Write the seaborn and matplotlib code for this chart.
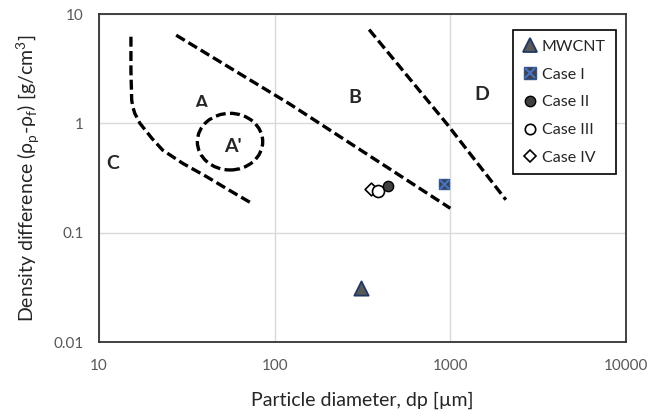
import pandas as pd
import matplotlib.pyplot as plt
import seaborn as sns
from matplotlib.lines import Line2D
from matplotlib.patches import Ellipse, Rectangle
from matplotlib.ticker import FixedLocator, FuncFormatter, LogLocator, NullFormatter

# measured cases (particle diameter in um, density difference in g/cm3)
cases = ["MWCNT", "Case I", "Case II", "Case III", "Case IV"]
dp = [310, 920, 440, 385, 355]
drho = [0.031, 0.28, 0.265, 0.24, 0.25]

# regime boundaries
bound_c_x = [15.2, 15.2, 15.35, 15.6, 16.0, 17.1, 20, 23, 30, 41, 55, 73]
bound_c_y = [6.2, 3.0, 1.63, 1.4, 1.23, 1.0, 0.73, 0.57, 0.43, 0.325, 0.245, 0.188]
bound_b_x = [27.5, 122, 1000]
bound_b_y = [6.4, 1.5, 0.167]
bound_d_x = [345, 950, 2070]
bound_d_y = [7.2, 1.0, 0.2]

# region A' (ellipse centre in data units, half-axes in decades)
a_prime_centre = (55.7, 0.68)
a_prime_halfaxes = (0.186, 0.259)

region_labels = ["A", "A'", "B", "C", "D"]
region_x = [38, 57.7, 286, 12.0, 1520]
region_y = [1.53, 0.61, 1.74, 0.43, 1.82]

x_ticks = [10, 100, 1000, 10000]
y_ticks = [0.01, 0.1, 1, 10]
# excel put the minor x ticks at odd spots
x_minor = [12.5, 31.25, 78, 195, 488, 1220, 3050, 7630]

sns.set_style("white")
plt.rcParams["font.family"] = ["Lato", "DejaVu Sans"]
plt.rcParams["mathtext.fontset"] = "custom"
plt.rcParams["mathtext.rm"] = "Lato"

fig = plt.figure(figsize=(6.63, 4.16), dpi=100)
ax = fig.add_axes([99 / 663, 1 - 342 / 416, 527 / 663, 328 / 416])
ax.set_xscale("log")
ax.set_yscale("log")
ax.set_xlim(10, 10000)
ax.set_ylim(0.01, 10)

dash = (0, (3, 1.3))
for bx, by in [(bound_c_x, bound_c_y), (bound_b_x, bound_b_y), (bound_d_x, bound_d_y)]:
    ax.plot(bx, by, color="black", lw=2.4, linestyle=dash, zorder=3)

# ellipse drawn in axes coords so it stays an ellipse on log axes
cx, cy = ax.transAxes.inverted().transform(ax.transData.transform(a_prime_centre))
ax.add_patch(Ellipse((cx, cy), 2 * a_prime_halfaxes[0] / 3, 2 * a_prime_halfaxes[1] / 3,
                     transform=ax.transAxes, fill=False, edgecolor="black",
                     lw=2.4, linestyle=dash, zorder=3))

# points
styles = {
    "MWCNT": dict(marker="^", s=105, color="#595959", edgecolor="#1f3864", linewidth=1.3),
    "Case I": dict(marker="s", s=62, color="#404040", edgecolor="#2f5597", linewidth=1.0),
    "Case II": dict(marker="o", s=55, color="#404040", edgecolor="black", linewidth=1.0),
    "Case III": dict(marker="o", s=75, color="white", edgecolor="black", linewidth=1.2),
    "Case IV": dict(marker="D", s=42, color="white", edgecolor="black", linewidth=1.2),
}
df = pd.DataFrame({"case": cases, "dp": dp, "drho": drho})
for name in ["MWCNT", "Case I", "Case IV", "Case III", "Case II"]:
    sub = df[df["case"] == name]
    sns.scatterplot(data=sub, x="dp", y="drho", ax=ax, zorder=4, legend=False, **styles[name])
sub = df[df["case"] == "Case I"]
ax.scatter(sub["dp"], sub["drho"], marker="x", s=45, color="#4472c4", linewidths=1.6, zorder=5)

for lab, x, y in zip(region_labels, region_x, region_y):
    ax.text(x, y, lab, fontsize=14, fontweight="bold", ha="center", va="center", zorder=6)
# the lower part of "A" is hidden behind a text box in the original
ax.add_patch(Rectangle((0.176, 0.69), 0.034, 0.026, transform=ax.transAxes,
                       color="white", zorder=7))

# axes cosmetics
ax.xaxis.set_major_locator(FixedLocator(x_ticks))
ax.xaxis.set_minor_locator(FixedLocator(x_minor))
ax.yaxis.set_major_locator(FixedLocator(y_ticks))
ax.yaxis.set_minor_locator(LogLocator(base=10, subs=range(2, 10)))
fmt = FuncFormatter(lambda v, p: f"{v:g}")
ax.xaxis.set_major_formatter(fmt)
ax.yaxis.set_major_formatter(fmt)
ax.xaxis.set_minor_formatter(NullFormatter())
ax.yaxis.set_minor_formatter(NullFormatter())
ax.tick_params(which="both", direction="in", length=4, width=1, color="#333333",
               labelcolor="#595959", labelsize=11)
ax.tick_params(axis="y", which="both", pad=11)
ax.tick_params(axis="x", which="both", pad=12)
ax.tick_params(top=False, right=False, which="both")
ax.grid(True, which="major", color="#d9d9d9", lw=1)
for sp in ax.spines.values():
    sp.set_color("#333333")
    sp.set_linewidth(1.3)
ax.set_axisbelow(True)

ax.set_xlabel("Particle diameter, dp [\u00b5m]", fontsize=14, labelpad=14)
ax.set_ylabel("Density difference (\u03c1$_\\mathrm{p}$-\u03c1$_\\mathrm{f}$) [g/cm$^3$]",
              fontsize=14, labelpad=8)

# legend
handles = [
    Line2D([], [], ls="", marker="^", ms=10, mfc="#595959", mec="#1f3864", mew=1.3),
    (Line2D([], [], ls="", marker="s", ms=8, mfc="#404040", mec="#2f5597"),
     Line2D([], [], ls="", marker="x", ms=7, mec="#4472c4", mew=1.6)),
    Line2D([], [], ls="", marker="o", ms=7.5, mfc="#404040", mec="black"),
    Line2D([], [], ls="", marker="o", ms=7.5, mfc="white", mec="black", mew=1.2),
    Line2D([], [], ls="", marker="D", ms=6, mfc="white", mec="black", mew=1.2),
]
leg = ax.legend(handles, cases, loc="upper left", bbox_to_anchor=(0.786, 0.951),
                borderaxespad=0, fontsize=11.5, frameon=True, fancybox=False,
                edgecolor="black", framealpha=1, handlelength=0.9, handletextpad=0.3,
                labelspacing=0.85, borderpad=0.6)
leg.get_frame().set_linewidth(1.2)
leg.set_zorder(8)

fig.savefig("out.png", dpi=100)
